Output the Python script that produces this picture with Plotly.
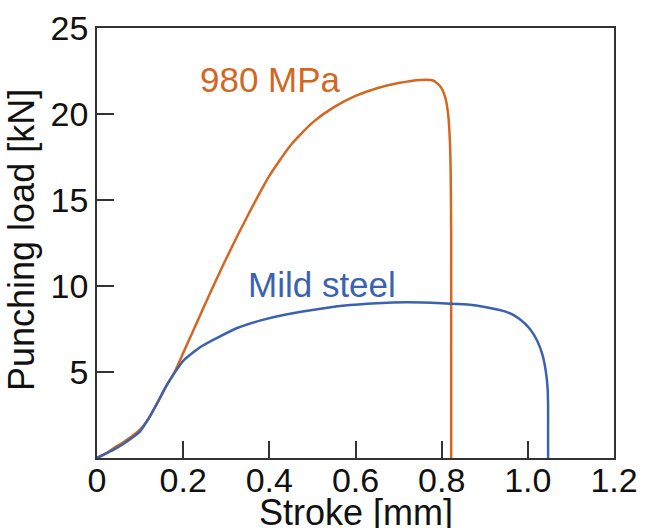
import plotly.graph_objects as go

# 980 MPa steel
x_980 = [0, 0.02, 0.04, 0.06, 0.08, 0.10, 0.12, 0.14, 0.16, 0.18, 0.20, 0.25, 0.30, 0.35,
         0.40, 0.45, 0.50, 0.55, 0.60, 0.65, 0.70, 0.75, 0.78, 0.797, 0.808, 0.815, 0.819,
         0.821, 0.822, 0.822, 0.822]
y_980 = [0, 0.25, 0.6, 0.9, 1.25, 1.65, 2.3, 3.2, 4.15, 5.0, 6.1, 8.9, 11.6, 14.1,
         16.4, 18.2, 19.5, 20.4, 21.05, 21.5, 21.8, 21.98, 21.95, 21.6, 21.0, 20.0, 18.5,
         16.5, 13.0, 6.0, 0]

# Mild steel
x_mild = [0, 0.02, 0.04, 0.06, 0.08, 0.10, 0.12, 0.14, 0.16, 0.18, 0.20, 0.24, 0.28, 0.33,
          0.38, 0.43, 0.50, 0.57, 0.65, 0.72, 0.80, 0.86, 0.90, 0.95, 0.98, 1.005, 1.022,
          1.034, 1.042, 1.046, 1.047, 1.047, 1.047]
y_mild = [0, 0.25, 0.5, 0.8, 1.15, 1.55, 2.3, 3.2, 4.15, 4.95, 5.65, 6.45, 7.0, 7.6,
          8.0, 8.3, 8.6, 8.85, 9.0, 9.05, 9.0, 8.92, 8.78, 8.5, 8.1, 7.5, 6.8,
          6.0, 5.0, 4.0, 3.0, 1.5, 0]

x_ticks = [0, 0.2, 0.4, 0.6, 0.8, 1.0, 1.2]
x_ticktext = ["0", "0.2", "0.4", "0.6", "0.8", "1.0", "1.2"]
y_ticks = [5, 10, 15, 20, 25]

ORANGE = "#D4671F"
BLUE = "#3A62B0"
FONT = "Liberation Sans, Arial, sans-serif"
FS_TICK = 34
FS_TITLE = 36
FS_LABEL = 35

fig = go.Figure()
fig.add_trace(go.Scatter(x=x_980, y=y_980, mode="lines",
                         line=dict(color=ORANGE, width=2.5, shape="spline", smoothing=0.6),
                         name="980 MPa"))
fig.add_trace(go.Scatter(x=x_mild, y=y_mild, mode="lines",
                         line=dict(color=BLUE, width=2.5, shape="spline", smoothing=0.6),
                         name="Mild steel"))

fig.add_annotation(x=0.403, y=22.0, text="980 MPa", showarrow=False,
                   font=dict(family=FONT, size=FS_LABEL, color=ORANGE))
fig.add_annotation(x=0.523, y=10.1, text="Mild steel", showarrow=False,
                   font=dict(family=FONT, size=FS_LABEL, color=BLUE))
fig.add_annotation(xref="paper", yref="paper", x=-0.145, y=0.507,
                   xanchor="center", yanchor="middle", textangle=-90,
                   text="Punching load [kN]", showarrow=False,
                   font=dict(family=FONT, size=FS_TITLE, color="#111"))
fig.add_annotation(xref="paper", yref="paper", x=0.5, y=0.0,
                   xanchor="center", yanchor="top", yshift=-32,
                   text="Stroke [mm]", showarrow=False,
                   font=dict(family=FONT, size=FS_TITLE, color="#111"))

fig.update_layout(
    width=645, height=528,
    margin=dict(l=97, r=31, t=28, b=70),
    paper_bgcolor="white", plot_bgcolor="white",
    showlegend=False,
    font=dict(family=FONT, size=FS_TICK, color="#111"),
)
fig.update_xaxes(range=[0, 1.2], tickvals=x_ticks, ticktext=x_ticktext,
                 ticks="inside", ticklen=17, tickwidth=1.5, tickcolor="#333",
                 showline=True, linecolor="#333", linewidth=1.5, mirror=True,
                 showgrid=False, zeroline=False, automargin=False,
                 ticklabelstandoff=-9,
                 tickfont=dict(size=FS_TICK))
fig.update_yaxes(range=[0, 25], tickvals=y_ticks,
                 ticks="inside", ticklen=17, tickwidth=1.5, tickcolor="#333",
                 showline=True, linecolor="#333", linewidth=1.5, mirror=True,
                 showgrid=False, zeroline=False, automargin=False,
                 tickfont=dict(size=FS_TICK))

fig.write_html("out.html")
